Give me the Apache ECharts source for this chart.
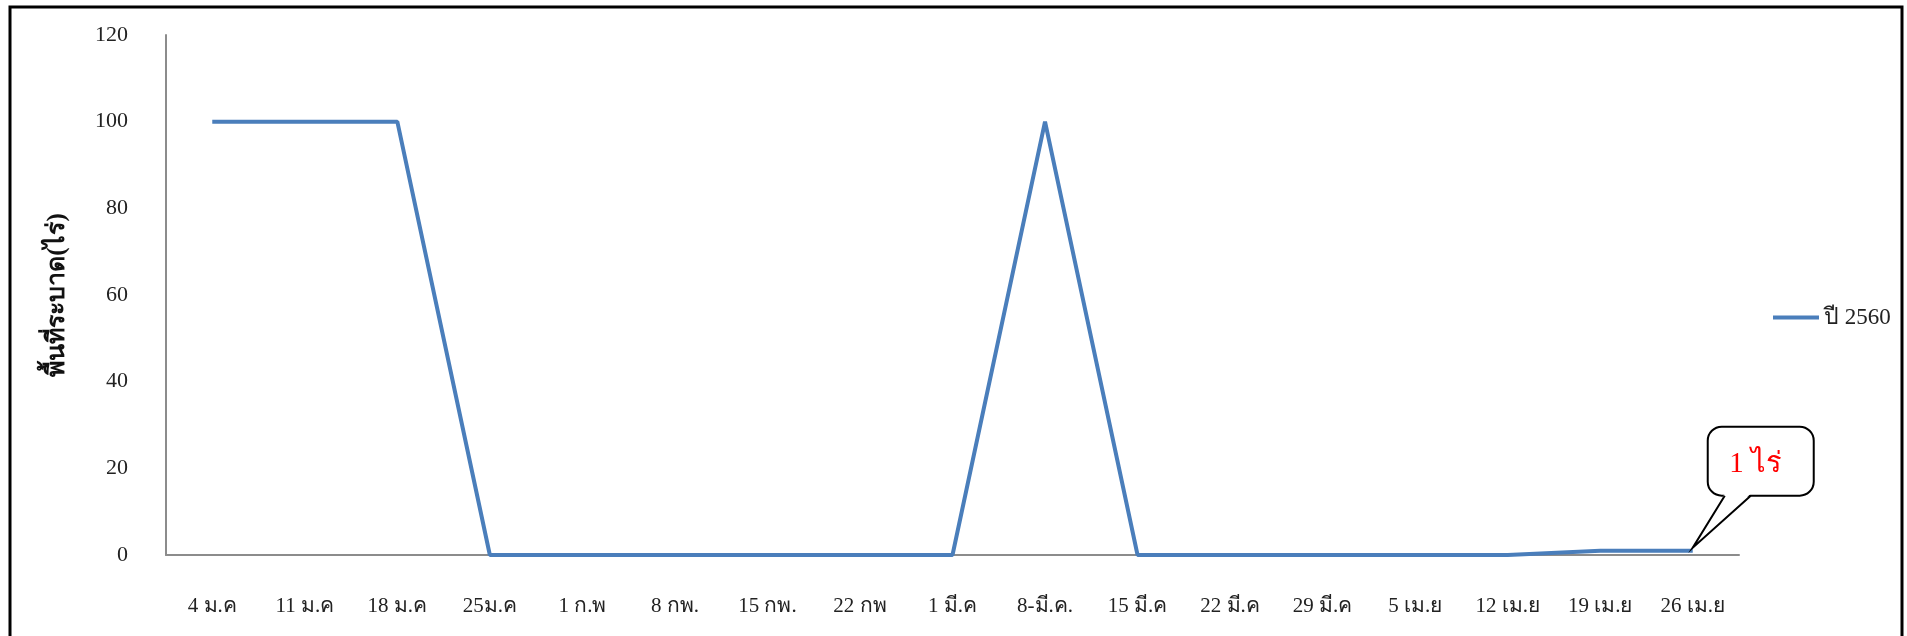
<!DOCTYPE html>
<html>
<head>
<meta charset="utf-8">
<script src="https://cdn.jsdelivr.net/npm/echarts@6/dist/echarts.min.js"></script>
<style>
html,body{margin:0;padding:0;background:#fff;}
#chart{width:1907px;height:636px;}
</style>
</head>
<body>
<div id="chart"></div>
<script>
const categories = ['4 ม.ค','11 ม.ค','18 ม.ค','25ม.ค','1 ก.พ','8 กพ.','15 กพ.','22 กพ','1 มี.ค','8-มี.ค.','15 มี.ค','22 มี.ค','29 มี.ค','5 เม.ย','12 เม.ย','19 เม.ย','26 เม.ย'];
const values2560 = [100,100,100,0,0,0,0,0,0,100,0,0,0,0,0,1,1];
const yTicks = [0,20,40,60,80,100,120];
const seriesName = 'ปี 2560';
const yAxisName = 'พื้นที่ระบาด(ไร่)';
const calloutText = '1 ไร่';
const calloutIndex = 16;

const chart = echarts.init(document.getElementById('chart'));
const serif = '"Liberation Serif","DejaVu Serif","Times New Roman",serif';
chart.setOption({
  animation:false,
  backgroundColor:'#fff',
  grid:{left:166,right:168,top:35,bottom:81,containLabel:false},
  legend:{
    data:[seriesName],left:1773,top:306,itemWidth:46,itemHeight:4,padding:0,
    icon:'rect',
    textStyle:{fontFamily:serif,fontSize:23,color:'#222'}
  },
  xAxis:{
    type:'category',data:categories,boundaryGap:true,
    axisLine:{lineStyle:{color:'#8c8c8c',width:2}},
    axisTick:{show:false},
    axisLabel:{interval:0,margin:41,fontFamily:serif,fontSize:21,color:'#222'}
  },
  yAxis:{
    type:'value',min:0,max:120,interval:20,
    name:yAxisName,nameLocation:'middle',nameGap:96,
    nameTextStyle:{fontFamily:serif,fontSize:25,fontWeight:'bold',color:'#111'},
    axisLine:{show:true,lineStyle:{color:'#8c8c8c',width:2}},
    axisTick:{show:false},
    splitLine:{show:false},
    axisLabel:{margin:38,fontFamily:serif,fontSize:22,color:'#222',
      formatter:v=>yTicks.includes(v)?String(v):''}
  },
  series:[{
    name:seriesName,type:'line',data:values2560,symbol:'none',
    lineStyle:{color:'#4A7EBB',width:4},itemStyle:{color:'#4A7EBB'}
  }]
});

function drawOverlay(){
  const p = chart.convertToPixel({seriesIndex:0},[calloutIndex, values2560[calloutIndex]]);
  const tx=p[0], ty=p[1]-3;
  const x0=tx+15, x1=tx+121, y0=ty-121, y1=ty-52, r=14;
  const b1=tx+32, b2=tx+58;
  chart.setOption({
    graphic:[
      {type:'rect',x:10,y:7,shape:{x:0,y:0,width:1892,height:640},
       style:{fill:'none',stroke:'#000',lineWidth:3},silent:true,z:100},
      {type:'rect',x:0,y:0,shape:{x:x0,y:y0,width:x1-x0,height:y1-y0,r:r},
       style:{fill:'#fff',stroke:'#000',lineWidth:2},silent:true,z:110},
      {type:'polygon',x:0,y:0,shape:{points:[[b1,y1-2],[tx,ty],[b2,y1-2]]},
       style:{fill:'#fff',stroke:null},silent:true,z:111},
      {type:'polyline',x:0,y:0,shape:{points:[[b1,y1],[tx,ty],[b2,y1]]},
       style:{fill:null,stroke:'#000',lineWidth:2},silent:true,z:112},
      {type:'text',x:tx+63,y:ty-83,
       style:{text:calloutText,fill:'#ff0000',font:'29px '+serif,align:'center',verticalAlign:'middle'},silent:true,z:120}
    ]
  });
}
drawOverlay();
</script>
</body>
</html>
